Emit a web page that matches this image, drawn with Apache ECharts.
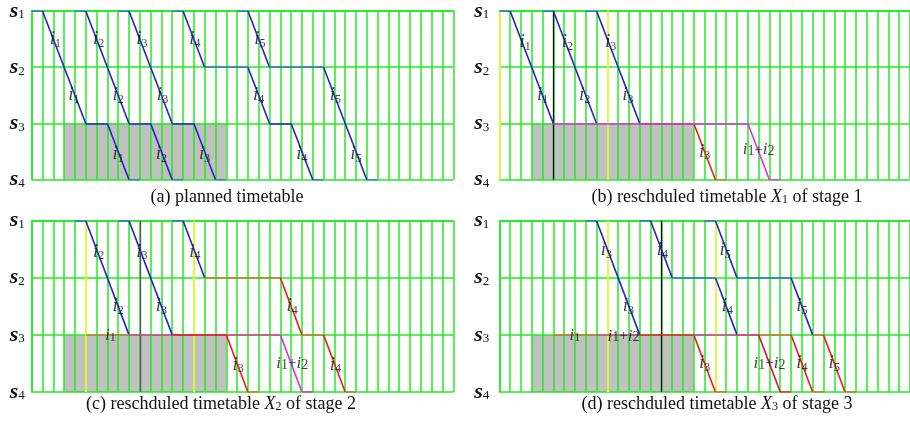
<!DOCTYPE html>
<html><head><meta charset="utf-8">
<script src="https://cdn.jsdelivr.net/npm/echarts@6/dist/echarts.min.js"></script>
<style>html,body{margin:0;padding:0;background:#fff}#c{width:910px;height:422px}</style>
</head><body><div id="c"></div>
<script>
// ---- data ----
const stationNames = ['s1', 's2', 's3', 's4'];
const stationSubs = ['1', '2', '3', '4'];
const colsLeft = 39;   // time slots shown in left panels
const colsRight = 38;  // time slots shown in right panels
// gray disruption block: [tStart, tEnd, stationFrom, stationTo]
const shade = [3, 18, 2, 3];
// segments: [t0, station0, t1, station1, colourKey]
const segA = [
  [0,0,1,0,'D'],[1,0,3,1,'B'],[3,1,5,2,'B'],[5,2,7,2,'B'],[7,2,9,3,'B'],[9,3,10,3,'D'],
  [4,0,5,0,'D'],[5,0,7,1,'B'],[7,1,9,2,'B'],[9,2,11,2,'B'],[11,2,13,3,'B'],[13,3,14,3,'D'],
  [8,0,9,0,'D'],[9,0,11,1,'B'],[11,1,13,2,'B'],[13,2,15,2,'B'],[15,2,17,3,'B'],[17,3,18,3,'D'],
  [13,0,14,0,'D'],[14,0,16,1,'B'],[16,1,20,1,'D'],[20,1,22,2,'B'],[22,2,24,2,'B'],[24,2,26,3,'B'],[26,3,27,3,'D'],
  [19,0,20,0,'D'],[20,0,22,1,'B'],[22,1,27,1,'D'],[27,1,31,3,'B'],[31,3,32,3,'D']
];
const segB = [
  [0,0,1,0,'D'],[1,0,5,2,'B'],
  [4,0,5,0,'D'],[5,0,9,2,'B'],
  [8,0,9,0,'D'],[9,0,13,2,'B'],[13,2,18,2,'R'],[18,2,20,3,'R'],[20,3,21,3,'N'],
  [5,2,23,2,'M'],[23,2,25,3,'M'],[25,3,26,3,'M']
];
const segC = [
  [4,0,5,0,'D'],[5,0,9,2,'B'],
  [5,2,9,2,'N'],
  [9,2,23,2,'Q'],[23,2,25,3,'M'],[25,3,26,3,'M'],
  [8,0,9,0,'D'],[9,0,13,2,'B'],[13,2,18,2,'R'],[18,2,20,3,'R'],[20,3,21,3,'N'],
  [13,0,14,0,'D'],[14,0,16,1,'B'],[16,1,23,1,'N'],[23,1,25,2,'R'],[25,2,27,2,'N'],[27,2,29,3,'R'],[29,3,30,3,'N']
];
const segD = [
  [5,2,9,2,'N'],[9,2,13,2,'Q'],
  [8,0,9,0,'D'],[9,0,13,2,'B'],[13,2,18,2,'R'],[18,2,20,3,'R'],[20,3,21,3,'N'],
  [13,0,14,0,'D'],[14,0,16,1,'B'],[16,1,20,1,'D'],[20,1,22,2,'B'],[22,2,27,2,'N'],
  [18,2,24,2,'Q'],[24,2,26,3,'P'],[26,3,27,3,'R'],
  [27,2,29,3,'R'],[29,3,30,3,'N'],
  [19,0,20,0,'D'],[20,0,22,1,'B'],[22,1,27,1,'D'],[27,1,29,2,'B'],[29,2,30,2,'N'],[30,2,32,3,'R'],[32,3,33,3,'N']
];
// vertical markers: [t, colourKey]
const vertB = [[0,'Y'],[10,'Y'],[5,'K']];
const vertC = [[5,'Y'],[15,'Y'],[10,'G']];
const vertD = [[10,'Y'],[20,'Y'],[15,'K']];
// labels: [t, station, kind, subscript]  kind: 'i' single train, 'ii' merged, 'is' small on-line
const labA = [
  [2.2,0.5,'i','1'],[6.2,0.5,'i','2'],[10.2,0.5,'i','3'],[15.1,0.5,'i','4'],[21.1,0.5,'i','5'],
  [3.9,1.5,'i','1'],[8.0,1.5,'i','2'],[12.1,1.5,'i','3'],[21.0,1.5,'i','4'],[28.1,1.5,'i','5'],
  [8.0,2.55,'i','1'],[12.0,2.55,'i','2'],[16.0,2.55,'i','3'],[25.0,2.55,'i','4'],[30.0,2.55,'i','5']
];
const labB = [
  [2.4,0.55,'i','1'],[6.3,0.55,'i','2'],[10.3,0.55,'i','3'],
  [4.0,1.5,'i','1'],[7.9,1.5,'i','2'],[11.9,1.5,'i','3'],
  [19.0,2.5,'i','3'],[24.0,2.47,'ii','']
];
const labC = [
  [6.2,0.54,'i','2'],[10.2,0.54,'i','3'],[15.1,0.54,'i','4'],
  [8.0,1.5,'i','2'],[12.0,1.5,'i','3'],[24.1,1.5,'i','4'],
  [7.3,2.02,'is','1'],[19.1,2.52,'i','3'],[24.1,2.5,'ii',''],[28.1,2.52,'i','4']
];
const labD = [
  [9.9,0.52,'i','3'],[15.1,0.52,'i','4'],[20.9,0.52,'i','5'],
  [11.95,1.5,'i','3'],[21.1,1.5,'i','4'],[28.0,1.5,'i','5'],
  [7.0,2.02,'is','1'],[11.5,2.02,'ii',''],
  [19.0,2.5,'i','3'],[25.0,2.5,'ii',''],[28.0,2.5,'i','4'],[31.0,2.5,'i','5']
];
const captions = [
  ['(a) planned timetable', '', ''],
  ['(b) reschduled timetable ', '1', ' of stage 1'],
  ['(c) reschduled timetable ', '2', ' of stage 2'],
  ['(d) reschduled timetable ', '3', ' of stage 3']
];

// ---- styles ----
const COL = {B:'#2a1fcc', D:'#3572c4', R:'#f21c1c', M:'#e22ee0', Q:'#e23a96', N:'#c8782c', P:'#d4163e',
             Y:'#ffff3a', K:'#111111', G:'#555555'};
const GREEN = '#22ea22';
const SERIF = '"Liberation Serif","DejaVu Serif",serif';
const panels = [
  {left:31.7, top:10, width:421.6, height:169.7, cols:colsLeft, seg:segA, vert:[], lab:labA, cap:captions[0], cx:227, cy:197},
  {left:499.3, top:10, width:410.6, height:169.7, cols:colsRight, seg:segB, vert:vertB, lab:labB, cap:captions[1], cx:727, cy:197},
  {left:31.7, top:220.7, width:421.6, height:171.3, cols:colsLeft, seg:segC, vert:vertC, lab:labC, cap:captions[2], cx:221, cy:404},
  {left:499.3, top:220.7, width:410.6, height:171.3, cols:colsRight, seg:segD, vert:vertD, lab:labD, cap:captions[3], cx:717, cy:404}
];

const labelRich = {
  i: {fontFamily:SERIF, fontStyle:'italic', fontSize:19, color:'#111', lineHeight:20},
  s: {fontFamily:SERIF, fontSize:12, color:'#111', lineHeight:20, padding:[9,0,0,0]},
  j: {fontFamily:SERIF, fontStyle:'italic', fontSize:17, color:'#111', lineHeight:18},
  t: {fontFamily:SERIF, fontSize:14, color:'#111', lineHeight:18, padding:[3,0,0,0]},
  p: {fontFamily:SERIF, fontSize:15, color:'#111', lineHeight:18},
  k: {fontFamily:SERIF, fontStyle:'italic', fontSize:16, color:'#111', lineHeight:18},
  u: {fontFamily:SERIF, fontSize:13, color:'#111', lineHeight:18, padding:[3,0,0,0]}
};
function labText(kind, sub) {
  if (kind === 'ii') return '{j|i}{t|1}{p|+}{j|i}{t|2}';
  if (kind === 'is') return '{k|i}{u|' + sub + '}';
  return '{i|i}{s|' + sub + '}';
}

const grid = [], xAxis = [], yAxis = [], series = [], graphic = [];
panels.forEach((p, k) => {
  grid.push({left:p.left, top:p.top, width:p.width, height:p.height});
  xAxis.push({type:'value', gridIndex:k, min:0, max:p.cols, interval:1,
    axisLabel:{show:false}, axisTick:{show:false},
    axisLine:{show:true, lineStyle:{color:GREEN, width:1.5}},
    splitLine:{show:true, showMinLine:true, showMaxLine:true, lineStyle:{color:GREEN, width:1.5}}});
  yAxis.push({type:'value', gridIndex:k, min:0, max:3, interval:1, inverse:true,
    axisTick:{show:false},
    axisLine:{show:true, lineStyle:{color:GREEN, width:1.5}},
    splitLine:{show:true, showMinLine:true, showMaxLine:true, lineStyle:{color:GREEN, width:1.5}},
    axisLabel:{show:true, margin: k % 2 ? 10 : 7,
      formatter: v => '{a|' + stationNames[v].charAt(0) + '}{b|' + stationSubs[v] + '}',
      rich:{a:{fontFamily:SERIF, fontStyle:'italic', fontWeight:'bold', fontSize:22, color:'#111', lineHeight:22},
            b:{fontFamily:SERIF, fontSize:13, color:'#111', lineHeight:22, padding:[8,0,0,0]}}}});
  // gray block
  series.push({type:'custom', xAxisIndex:k, yAxisIndex:k, z:-1, silent:true,
    data:[shade],
    renderItem:(params, api) => {
      const a = api.coord([api.value(0), api.value(2)]);
      const b = api.coord([api.value(1), api.value(3)]);
      return {type:'rect', shape:{x:a[0], y:a[1], width:b[0]-a[0], height:b[1]-a[1]},
              style:{fill:'#c0c0c0'}};
    }});
  // vertical markers
  if (p.vert.length) {
    series.push({type:'lines', coordinateSystem:'cartesian2d', xAxisIndex:k, yAxisIndex:k, z:3, silent:true,
      lineStyle:{width:1.5, opacity:1},
      data:p.vert.map(v => ({coords:[[v[0],0],[v[0],3]], lineStyle:{color:COL[v[1]], opacity:1, width: v[1]==='Y'?1.6:1.3}}))});
  }
  // train paths
  series.push({type:'lines', coordinateSystem:'cartesian2d', xAxisIndex:k, yAxisIndex:k, z:5, silent:true,
    lineStyle:{width:1.6, opacity:1},
    data:p.seg.map(s => ({coords:[[s[0],s[1]],[s[2],s[3]]], lineStyle:{color:COL[s[4]], opacity:1, width:1.6}}))});
  // labels
  series.push({type:'scatter', xAxisIndex:k, yAxisIndex:k, z:8, silent:true, symbolSize:0,
    data:p.lab.map(l => ({value:[l[0], l[1]], name:labText(l[2], l[3])})),
    label:{show:true, position:'inside', formatter: d => d.name, rich:labelRich}});
  // caption
  const c = p.cap;
  const txt = c[1] ? '{n|' + c[0] + '}{x|X}{s|' + c[1] + '}{n|' + c[2] + '}' : '{n|' + c[0] + '}';
  graphic.push({type:'text', x:p.cx, y:p.cy, silent:true,
    style:{text:txt, x:0, y:0, align:'center', verticalAlign:'middle',
      rich:{n:{fontFamily:SERIF, fontSize:18, fill:'#111', lineHeight:22},
            x:{fontFamily:SERIF, fontStyle:'italic', fontSize:18, fill:'#111', lineHeight:22},
            s:{fontFamily:SERIF, fontSize:12, fill:'#111', lineHeight:22, padding:[6,0,0,0]}}}});
});

const chart = echarts.init(document.getElementById('c'), null, {renderer:'canvas'});
chart.setOption({animation:false, backgroundColor:'#fff', grid, xAxis, yAxis, series, graphic});
</script>
</body></html>
